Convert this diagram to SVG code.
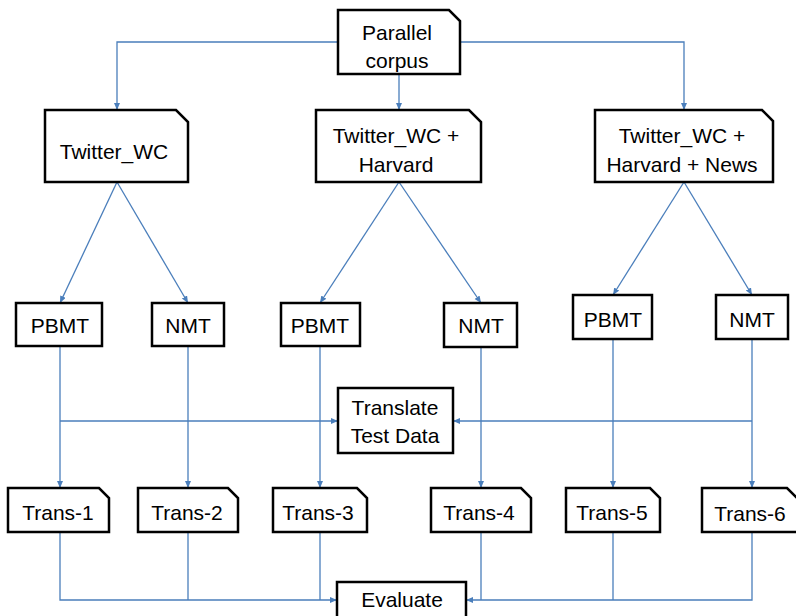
<svg xmlns="http://www.w3.org/2000/svg" width="796" height="616" viewBox="0 0 796 616">
<defs>
<marker id="arr" markerUnits="userSpaceOnUse" markerWidth="8" markerHeight="7" refX="7" refY="3" orient="auto">
<path d="M0,0 L7,3 L0,6 Z" fill="#4A7EBB"/>
</marker>
<style>
.box{fill:#fff;stroke:#000;stroke-width:2.5;stroke-linejoin:miter}
.t{font-family:"Liberation Sans",Arial,sans-serif;font-size:21px;fill:#000;text-anchor:middle}
.c{fill:none;stroke:#4A7EBB;stroke-width:1.3}
.a{marker-end:url(#arr)}
</style>
</defs>
<rect width="796" height="616" fill="#fff"/>
<g id="connectors">
<path class="c a" d="M338,42 H117 V110"/>
<path class="c a" d="M460,42 H684 V110"/>
<path class="c a" d="M399,74 V110"/>
<path class="c a" d="M117,182 L60,303"/>
<path class="c a" d="M117,182 L188,303"/>
<path class="c a" d="M399,182 L320,303"/>
<path class="c a" d="M399,182 L481,303"/>
<path class="c a" d="M684,182 L613,295"/>
<path class="c a" d="M684,182 L752,295"/>
<path class="c a" d="M60,346 V488"/>
<path class="c a" d="M188,346 V488"/>
<path class="c a" d="M320,346 V488"/>
<path class="c a" d="M481,347 V488"/>
<path class="c a" d="M613,339 V488"/>
<path class="c a" d="M752,339 V488"/>
<path class="c a" d="M60,421 H338"/>
<path class="c a" d="M752,421 H453"/>
<path class="c a" d="M60,532 V600 H337"/>
<path class="c" d="M188,532 V600"/>
<path class="c" d="M320,532 V600"/>
<path class="c a" d="M752,532 V600 H466"/>
<path class="c" d="M481,532 V600"/>
<path class="c" d="M613,532 V600"/>
</g>
<g id="parallel-corpus">
<path class="box" d="M338,10 H449 L460,21 V74 H338 Z"/>
<text class="t" x="397" y="40">Parallel</text>
<text class="t" x="397" y="68">corpus</text>
</g>
<g id="twitter-wc">
<path class="box" d="M45,110 H176 L188,122 V182 H45 Z"/>
<text class="t" x="114" y="159">Twitter_WC</text>
</g>
<g id="twitter-wc-harvard">
<path class="box" d="M316,110 H469 L481,122 V182 H316 Z"/>
<text class="t" x="396" y="143">Twitter_WC +</text>
<text class="t" x="396" y="172">Harvard</text>
</g>
<g id="twitter-wc-harvard-news">
<path class="box" d="M595,110 H762 L773,121 V182 H595 Z"/>
<text class="t" x="682" y="143">Twitter_WC +</text>
<text class="t" x="682" y="172">Harvard + News</text>
</g>
<g id="pbmt-1">
<rect class="box" x="16" y="303" width="86" height="43"/>
<text class="t" x="60" y="333">PBMT</text>
</g>
<g id="nmt-1">
<rect class="box" x="152" y="303" width="72" height="43"/>
<text class="t" x="188" y="333">NMT</text>
</g>
<g id="pbmt-2">
<rect class="box" x="281" y="303" width="79" height="43"/>
<text class="t" x="320" y="333">PBMT</text>
</g>
<g id="nmt-2">
<rect class="box" x="444" y="303" width="73" height="44"/>
<text class="t" x="481" y="333">NMT</text>
</g>
<g id="pbmt-3">
<rect class="box" x="573" y="295" width="79" height="44"/>
<text class="t" x="613" y="327">PBMT</text>
</g>
<g id="nmt-3">
<rect class="box" x="716" y="295" width="72" height="44"/>
<text class="t" x="752" y="327">NMT</text>
</g>
<g id="translate-test-data">
<rect class="box" x="338" y="388" width="115" height="65"/>
<text class="t" x="395" y="415">Translate</text>
<text class="t" x="395" y="443">Test Data</text>
</g>
<g id="trans-1">
<path class="box" d="M8,488 H99 L109,498 V532 H8 Z"/>
<text class="t" x="58" y="520">Trans-1</text>
</g>
<g id="trans-2">
<path class="box" d="M138,488 H228 L238,498 V532 H138 Z"/>
<text class="t" x="187" y="520">Trans-2</text>
</g>
<g id="trans-3">
<path class="box" d="M273,488 H357 L367,498 V532 H273 Z"/>
<text class="t" x="318" y="520">Trans-3</text>
</g>
<g id="trans-4">
<path class="box" d="M431,488 H521 L531,498 V532 H431 Z"/>
<text class="t" x="479" y="520">Trans-4</text>
</g>
<g id="trans-5">
<path class="box" d="M566,488 H650 L660,498 V532 H566 Z"/>
<text class="t" x="612" y="520">Trans-5</text>
</g>
<g id="trans-6">
<path class="box" d="M702,488 H787 L798,499 V532 H702 Z"/>
<text class="t" x="750" y="521">Trans-6</text>
</g>
<g id="evaluate">
<rect class="box" x="337" y="582" width="129" height="44"/>
<text class="t" x="402" y="607">Evaluate</text>
</g>
</svg>
